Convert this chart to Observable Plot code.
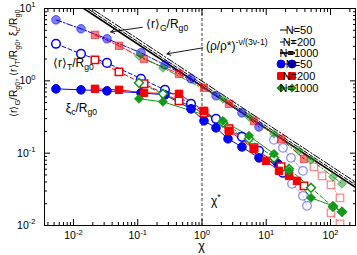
<!DOCTYPE html>
<html><head><meta charset="utf-8">
<script src="https://cdn.jsdelivr.net/npm/d3@7"></script>
<script src="https://cdn.jsdelivr.net/npm/@observablehq/plot@0.6"></script>
<style>html,body{margin:0;padding:0;background:#fff}svg{display:block}</style>
</head><body><div id="chart"></div>
<script>
// ---------- data (chi, value) ----------
const chiTicks = [0.01, 0.1, 1, 10, 100];
const chiTickLabels = ["10^{-2}", "10^{-1}", "10^{0}", "10^{1}", "10^{2}"];
const vTicks = [0.01, 0.1, 1, 10];
const vTickLabels = ["10^{-2}", "10^{-1}", "10^{0}", "10^{1}"];
const legendNames = ["N=50", "N=200", "N=1000"];

// N=50
const rG_50 = [[0.00534,6.97],[0.0131,5.24],[0.0332,3.81],[0.1124,2.44],[0.2655,1.66],[0.674,1.07],[1.652,0.621],[4.19,0.361],[7.71,0.231]];
const rG_50b = [[13.2,0.153],[18.2,0.1186],[24.3,0.0861],[37.3,0.057]];
const rT_50 = [[0.00534,3.25],[0.0131,2.36],[0.0332,1.77],[0.1124,1.07],[0.2655,0.751],[0.674,0.481],[1.652,0.298],[4.19,0.168],[7.71,0.1077],[18.2,0.0535]];
const rT_50b = [[25.2,0.0377],[37.3,0.0257],[43.1,0.0187]];
const xi_50 = [[0.00534,0.775],[0.0131,0.751],[0.0332,0.727],[0.1124,0.683],[0.2655,0.640],[0.674,0.410],[1.074,0.280],[1.652,0.224],[2.54,0.158],[4.19,0.122],[7.71,0.0861],[15.2,0.0712]];
// N=200
const rG_200 = [[0.0216,4.32],[0.0511,3.05],[0.125,2.01],[0.4385,1.25],[1.074,0.800],[2.63,0.481],[6.44,0.280],[16.97,0.158],[38.7,0.0835]];
const rG_200b = [[55.3,0.0647],[73.8,0.0486],[101.8,0.0365],[140.6,0.0241]];
const rT_200 = [[0.0216,1.95],[0.0511,1.33],[0.125,0.909],[0.4385,0.529],[1.074,0.361],[2.63,0.217],[6.44,0.1186],[16.97,0.0647],[38.7,0.0353]];
const rT_200b = [[101.8,0.0150],[140.6,0.01054]];
const xi_200 = [[0.0216,0.775],[0.0511,0.751],[0.125,0.683],[0.4385,0.661],[1.074,0.385],[2.63,0.204],[6.44,0.1148],[9.91,0.0783],[15.8,0.0570],[22.6,0.0486],[30.1,0.0414]];
// N=1000
const rG_1000 = [[0.1045,2.22],[0.247,1.51],[2.12,0.564],[5.39,0.318],[13.2,0.185],[32.3,0.1077],[49.7,0.0809],[109.4,0.0471],[151,0.0377]];
const rT_1000 = [[0.1045,0.938],[0.247,0.661],[2.12,0.263],[5.39,0.158],[13.2,0.0861],[22.6,0.0607],[49.7,0.0332],[109.4,0.0181],[151,0.0155]];
const xi_1000 = [[0.1045,0.564],[0.247,0.513],[2.12,0.280],[5.39,0.174],[13.2,0.0979],[22.6,0.057],[49.7,0.0241],[109.4,0.0187],[151,0.0155]];
// power laws (rho/rho*)^(-nu/(3nu-1))
const law_50 = [[0.01,14.6],[300,0.0354]];
const law_200 = [[0.01,13.4],[300,0.0324]];
const law_1000 = [[0.01,12.4],[300,0.030]];

// annotations
const notes = [
  {chi: 0.134, v: 6.1, text: "⟨r⟩_{G}/R_{g0}"},
  {chi: 1.15, v: 3.05, text: "(ρ/ρ*)^{-ν/(3ν-1)}"},
  {chi: 0.0048, v: 1.77, text: "⟨r⟩_{T}/R_{g0}"},
  {chi: 0.0076, v: 0.424, text: "ξ_{c}/R_{g0}"},
  {chi: 1.38, v: 0.0218, text: "χ^{*}"}
];
const arrows = [
  {c1: 0.118, v1: 5.5, c2: 0.038, v2: 4.75},
  {c1: 1.03, v1: 2.86, c2: 0.285, v2: 2.36}
];

// ---------- styling ----------
const colors = ["#0000f5", "#f50000", "#12991a"];
const symbols = ["circle", "square", "diamond2"];
const radii = [4.3, 4.2, 4.0];
const series = [
  [rG_50, 0, "G"], [rG_50b, 0, "P"], [rT_50, 0, "T"], [rT_50b, 0, "P"], [xi_50, 0, "X"],
  [rG_200, 1, "G"], [rG_200b, 1, "P"], [rT_200, 1, "T"], [rT_200b, 1, "P"], [xi_200, 1, "X"],
  [rG_1000, 2, "G"], [rT_1000, 2, "T"], [xi_1000, 2, "X"]
];
const dashG = "6,2,1.5,2", dashT = "4,2.5";

const clipMarks = [];
for (const [data, n, kind] of series) {
  const c = colors[n];
  const lineOpt = {x: d => d[0], y: d => d[1], stroke: c, strokeWidth: 1, clip: true};
  if (kind === "G") lineOpt.strokeDasharray = dashG;
  if (kind === "T") lineOpt.strokeDasharray = dashT;
  if (kind === "P") { lineOpt.strokeDasharray = "2,2"; lineOpt.strokeOpacity = 0.45; }
  clipMarks.push(Plot.line(data, lineOpt));
}
for (const [data, n, kind] of series) {
  const c = colors[n];
  const o = {x: d => d[0], y: d => d[1], symbol: symbols[n], r: radii[n], clip: true};
  if (kind === "G") Object.assign(o, {fill: c, fillOpacity: 0.5, stroke: c, strokeOpacity: 0.55, strokeWidth: 1});
  if (kind === "T") Object.assign(o, {fill: "white", stroke: c, strokeWidth: 1.5});
  if (kind === "X") Object.assign(o, {fill: c, stroke: c, strokeWidth: 1});
  if (kind === "P") Object.assign(o, {fill: "white", fillOpacity: 0.6, stroke: c, strokeOpacity: 0.45, strokeWidth: 1.3});
  clipMarks.push(Plot.dot(data, o));
}

function minorTicks(lo, hi, a, b) {
  const out = [];
  for (let e = lo; e < hi; e++) for (let k = 2; k <= 9; k++) { const t = k * Math.pow(10, e); if (t >= a && t <= b) out.push(t); }
  return out;
}
const xDom = [0.00354, 245], yDom = [0.01, 10];
const xMinor = minorTicks(-3, 3, xDom[0], xDom[1]);
const yMinor = minorTicks(-2, 1, yDom[0], yDom[1]);
const blank = () => "";

const plot = Plot.plot({
  width: 357, height: 255,
  marginLeft: 44, marginRight: 2, marginTop: 8, marginBottom: 30,
  style: {fontFamily: "'Liberation Sans', Arial, Helvetica, sans-serif", fontSize: "10px", background: "white", color: "black", overflow: "visible"},
  x: {type: "log", domain: xDom},
  y: {type: "log", domain: yDom},
  marks: [
    Plot.ruleX([1], {stroke: "black", strokeWidth: 0.8, strokeDasharray: "3,2"}),
    Plot.line(law_50, {x: d => d[0], y: d => d[1], stroke: "black", strokeWidth: 1, strokeDasharray: "7,2,1.5,2", clip: true}),
    Plot.line(law_200, {x: d => d[0], y: d => d[1], stroke: "black", strokeWidth: 1, strokeDasharray: "4,2", clip: true}),
    Plot.line(law_1000, {x: d => d[0], y: d => d[1], stroke: "black", strokeWidth: 1.7, clip: true}),
    ...clipMarks,
    Plot.arrow(arrows, {x1: "c1", y1: "v1", x2: "c2", y2: "v2", stroke: "black", strokeWidth: 0.9, headLength: 7, bend: 0}),
    Plot.text(notes, {x: "chi", y: "v", text: "text", textAnchor: "start", fontSize: 12, fill: "black"}),
    Plot.text(["⟨r⟩_{G}/R_{g0}, ⟨r⟩_{T}/R_{g0}, ξ_{c}/R_{g0}"], {frameAnchor: "left", dx: -31, dy: 0, rotate: -90, fontSize: 10.2, fill: "black"}),
    Plot.text(["χ"], {frameAnchor: "bottom", dx: 1.5, dy: 24, fontSize: 12.5, fill: "black"}),
    Plot.frame({stroke: "black", strokeWidth: 1}),
    // inward ticks on four sides
    Plot.axisX({anchor: "bottom", ticks: chiTicks, tickSize: -6, tickFormat: blank, label: null}),
    Plot.axisX({anchor: "bottom", ticks: xMinor, tickSize: -3, tickFormat: blank, label: null}),
    Plot.axisX({anchor: "top", ticks: chiTicks, tickSize: -6, tickFormat: blank, label: null}),
    Plot.axisX({anchor: "top", ticks: xMinor, tickSize: -3, tickFormat: blank, label: null}),
    Plot.axisY({anchor: "left", ticks: vTicks, tickSize: -6, tickFormat: blank, label: null}),
    Plot.axisY({anchor: "left", ticks: yMinor, tickSize: -3, tickFormat: blank, label: null}),
    Plot.axisY({anchor: "right", ticks: vTicks, tickSize: -6, tickFormat: blank, label: null}),
    Plot.axisY({anchor: "right", ticks: yMinor, tickSize: -3, tickFormat: blank, label: null}),
    // tick labels
    Plot.axisX({anchor: "bottom", ticks: chiTicks, tickSize: 0, tickPadding: 6, tickFormat: d => chiTickLabels[chiTicks.indexOf(d)], label: null, fontSize: 10.5}),
    Plot.axisY({anchor: "left", ticks: vTicks, tickSize: 0, tickPadding: 9, tickFormat: d => vTickLabels[vTicks.indexOf(d)], label: null, fontSize: 10.5})
  ]
});
document.getElementById("chart").appendChild(plot);

// ---------- sub/superscript rendering ----------
const NS = "http://www.w3.org/2000/svg";
function richify(root) {
  root.querySelectorAll("text").forEach(t => {
    const s = t.textContent;
    if (!/[_^]\{/.test(s)) return;
    const fs = parseFloat(getComputedStyle(t).fontSize) || 10;
    while (t.firstChild) t.removeChild(t.firstChild);
    const re = /([_^])\{([^}]*)\}/g;
    let m, last = 0, cur = 0;
    const put = (str, kind) => {
      if (!str) return;
      const sp = document.createElementNS(NS, "tspan");
      const target = kind === "^" ? -0.42 * fs : kind === "_" ? 0.3 * fs : 0;
      const d = target - cur;
      if (d !== 0) sp.setAttribute("dy", d.toFixed(2));
      cur = target;
      if (kind) sp.setAttribute("font-size", (0.72 * fs).toFixed(2) + "px");
      sp.textContent = str;
      t.appendChild(sp);
    };
    while ((m = re.exec(s))) { put(s.slice(last, m.index), null); put(m[2], m[1]); last = re.lastIndex; }
    put(s.slice(last), null);
  });
}
richify(plot);

// ---------- legend ----------
const svg = d3.select(plot);
const lg = svg.append("g").attr("font-size", 11).attr("font-family", "'Liberation Sans', Arial, sans-serif");
const ltx = 299;
const rows = [30, 42, 53, 64, 76, 88];
const lawDash = ["7,2,1.5,2", "4,2", null];
legendNames.forEach((name, i) => {
  const y = rows[i];
  const l = lg.append("line").attr("x1", 280).attr("x2", 295).attr("y1", y).attr("y2", y).attr("stroke", "black").attr("stroke-width", i === 2 ? 1.7 : 1);
  if (lawDash[i]) l.attr("stroke-dasharray", lawDash[i]);
  lg.append("text").attr("x", ltx).attr("y", y).attr("dy", "0.36em").text(name);
});
legendNames.forEach((name, i) => {
  const y = rows[i + 3];
  const a = 281, b = 292;
  lg.append("line").attr("x1", a).attr("x2", b).attr("y1", y).attr("y2", y).attr("stroke", colors[i]).attr("stroke-width", 1);
  const symType = [d3.symbolCircle, d3.symbolSquare, d3.symbolDiamond2][i];
  const area = Math.PI * radii[i] * radii[i] * 0.85;
  [a, b].forEach(x => {
    lg.append("path").attr("d", d3.symbol(symType, area)()).attr("transform", `translate(${x},${y})`).attr("fill", colors[i]).attr("stroke", colors[i]);
  });
  lg.append("text").attr("x", ltx).attr("y", y).attr("dy", "0.36em").text(name);
});
</script>
</body></html>
